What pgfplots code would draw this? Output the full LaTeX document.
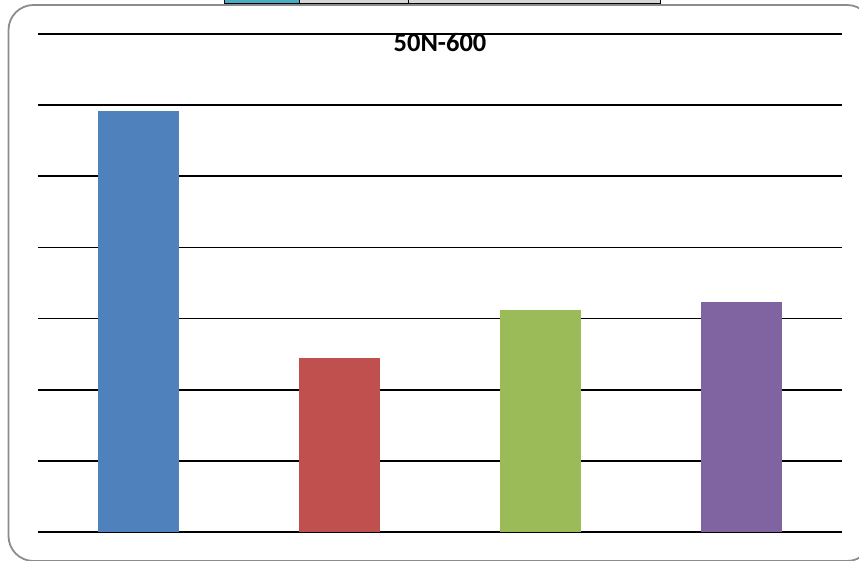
\documentclass[border=0pt]{standalone}
\usepackage{fontspec}
\setmainfont{Carlito}
\usepackage{pgfplots}
\pgfplotsset{compat=1.18}

\definecolor{barBlue}{HTML}{4F81BD}
\definecolor{barRed}{HTML}{C0504D}
\definecolor{barGreen}{HTML}{9BBB59}
\definecolor{barPurple}{HTML}{8064A2}
\definecolor{cellTeal}{HTML}{4BACC6}
\definecolor{cellGray}{HTML}{D6D6D6}
\definecolor{frameGray}{HTML}{8C8C8C}

\begin{document}
\begin{tikzpicture}[x=1pt,y=1pt]
\useasboundingbox (0,0) rectangle (859,560);
\begin{scope}
  \clip (0,0) rectangle (859,560);
  % strip of table cells running along the top edge
  \draw[black, line width=1pt, fill=cellTeal] (224.5,556.5) rectangle (299.5,570);
  \draw[black, line width=1pt, fill=cellGray] (299.5,556.5) rectangle (408.5,570);
  \draw[black, line width=1pt, fill=cellGray] (408.5,556.5) rectangle (660.5,570);
  % rounded chart frame
  \draw[frameGray, line width=1.8pt, rounded corners=25pt] (8.5,-1) rectangle (872,555);
\end{scope}

\begin{axis}[
  at={(38pt,28pt)}, anchor=south west,
  width=804pt, height=498pt, scale only axis,
  xmin=-0.5, xmax=3.5, ymin=0, ymax=7,
  xtick=\empty, ytick={0,1,...,7}, yticklabels={},
  major tick length=0pt,
  axis line style={draw=none},
  ymajorgrids, grid style={black, line width=1.8pt},
  ybar, bar width=81pt, bar shift=0pt,
]
\addplot[fill=barBlue, draw=none] coordinates {(0,5.92)};
\addplot[fill=barRed, draw=none] coordinates {(1,2.45)};
\addplot[fill=barGreen, draw=none] coordinates {(2,3.12)};
\addplot[fill=barPurple, draw=none] coordinates {(3,3.23)};
\end{axis}

\node[font=\bfseries\fontsize{26.5}{30}\selectfont, inner sep=0pt] at (440,517) {50N-600};
\end{tikzpicture}
\end{document}
